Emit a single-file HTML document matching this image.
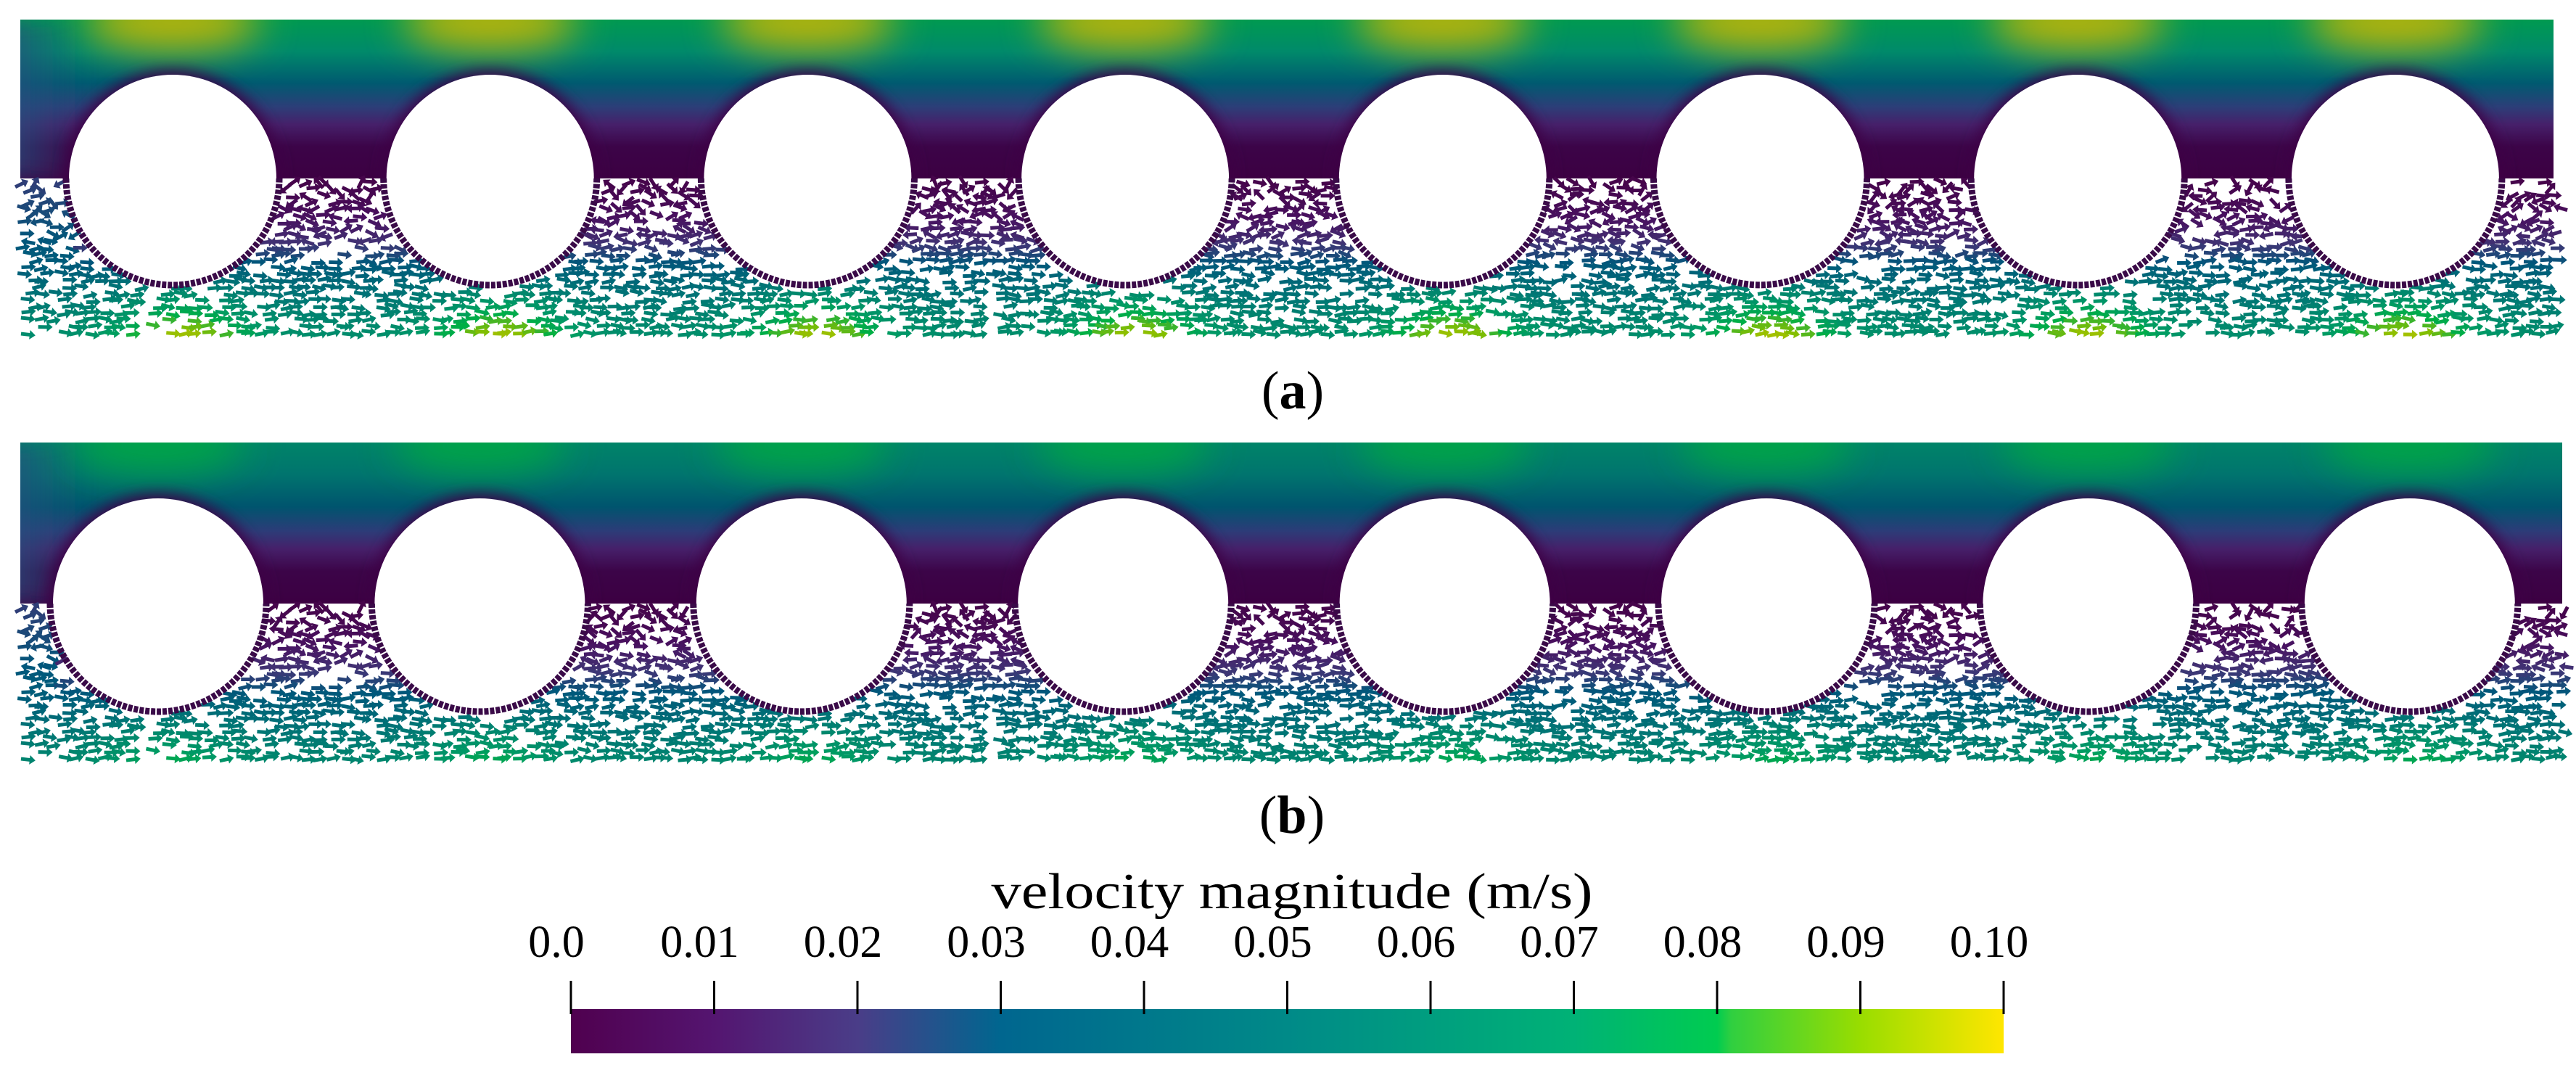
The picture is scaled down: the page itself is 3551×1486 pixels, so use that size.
<!DOCTYPE html>
<html><head><meta charset="utf-8"><style>
html,body{margin:0;padding:0;background:#fff;}
svg{display:block;}
text{font-family:"Liberation Serif",serif;fill:#000;}
</style></head><body>
<svg id="fig" width="3551" height="1486" viewBox="0 0 3551 1486" xmlns="http://www.w3.org/2000/svg">
<defs>
  <filter id="blur20" x="-50%" y="-50%" width="200%" height="200%"><feGaussianBlur stdDeviation="26"/></filter>
  <filter id="blur14" x="-50%" y="-50%" width="200%" height="200%"><feGaussianBlur stdDeviation="16"/></filter>
  <filter id="blur8" x="-50%" y="-50%" width="200%" height="200%"><feGaussianBlur stdDeviation="10"/></filter>
  <linearGradient id="fieldA" x1="0" y1="0" x2="0" y2="1">
    <stop offset="0" stop-color="#009a50"/><stop offset="0.2" stop-color="#008a6a"/>
    <stop offset="0.4" stop-color="#005a70"/><stop offset="0.55" stop-color="#2c3e78"/>
    <stop offset="0.66" stop-color="#46206a"/><stop offset="0.8" stop-color="#3c0448"/>
    <stop offset="1" stop-color="#3c0042"/>
  </linearGradient>
  <linearGradient id="fieldB" x1="0" y1="0" x2="0" y2="1">
    <stop offset="0" stop-color="#008468"/><stop offset="0.2" stop-color="#00746e"/>
    <stop offset="0.4" stop-color="#00546e"/><stop offset="0.55" stop-color="#2c3c78"/>
    <stop offset="0.66" stop-color="#46206a"/><stop offset="0.8" stop-color="#3c0448"/>
    <stop offset="1" stop-color="#3c0042"/>
  </linearGradient>
  <linearGradient id="leftEdge" x1="0" y1="0" x2="1" y2="0">
    <stop offset="0" stop-color="#24507e" stop-opacity="0.95"/><stop offset="1" stop-color="#24507e" stop-opacity="0"/>
  </linearGradient>
  <linearGradient id="cbar" x1="0" y1="0" x2="1" y2="0"></linearGradient>
  <clipPath id="clipA"><rect x="28" y="27" width="3492" height="219"/></clipPath>
  <clipPath id="clipB"><rect x="28" y="610" width="3504" height="222"/></clipPath>
</defs>
<g id="panelA"></g>
<g id="panelB"></g>
<text x="1782" y="563" font-size="74" text-anchor="middle">(<tspan font-weight="bold">a</tspan>)</text>
<text x="1781" y="1148" font-size="74" text-anchor="middle">(<tspan font-weight="bold">b</tspan>)</text>
<g id="colorbar">
  <text x="1781" y="1252" font-size="70" text-anchor="middle" textLength="829" lengthAdjust="spacingAndGlyphs">velocity magnitude (m/s)</text>
</g>
</svg>
<script>
// ---- data ----
const tickValues = [0, 0.01, 0.02, 0.03, 0.04, 0.05, 0.06, 0.07, 0.08, 0.09, 0.10];
const tickLabels = ["0.0","0.01","0.02","0.03","0.04","0.05","0.06","0.07","0.08","0.09","0.10"];
const stopValues = [0, 0.01, 0.02, 0.03, 0.05, 0.07, 0.08, 0.081, 0.09, 0.10];
const stopColors = ["#50004f","#541570","#4a3d88","#00668f","#008a88","#00b276","#00cc50","#30cf40","#99dd00","#ffe600"];
const rowMagA = [0.002,0.004,0.006,0.009,0.013,0.018,0.024,0.031,0.038,0.045,0.051,0.056,0.06,0.063];
const rowMagB = [0.002,0.004,0.006,0.009,0.013,0.018,0.023,0.029,0.035,0.041,0.047,0.052,0.056,0.059];
const hotAmpA = 0.034;
const hotAmpB = 0.02;
const circleCount = 8;

const NS = "http://www.w3.org/2000/svg";
const vmin = 0, vmax = 0.10;
const cbX0 = 787, cbX1 = 2762, cbY0 = 1391, cbY1 = 1452;
function xScale(v){ return cbX0 + (v - vmin) / (vmax - vmin) * (cbX1 - cbX0); }

function hex(c){ return [parseInt(c.substr(1,2),16),parseInt(c.substr(3,2),16),parseInt(c.substr(5,2),16)]; }
function colorAt(v, dark){
  v = Math.max(vmin, Math.min(vmax, v));
  let k = 0;
  while (k < stopValues.length - 2 && v > stopValues[k+1]) k++;
  const t = (v - stopValues[k]) / (stopValues[k+1] - stopValues[k]);
  const a = hex(stopColors[k]), b = hex(stopColors[k+1]);
  const f = dark || 1;
  return "rgb(" + a.map((q,i)=>Math.round((q + (b[i]-q)*t)*f)).join(",") + ")";
}
function mk(tag, attrs, parent){
  const e = document.createElementNS(NS, tag);
  for (const k in attrs) e.setAttribute(k, attrs[k]);
  parent.appendChild(e);
  return e;
}
// deterministic grid hash (layout texture only)
function hsh(i, j, s){
  let h = (i * 374761393 + j * 668265263 + s * 2246822519) >>> 0;
  h = ((h ^ (h >>> 13)) * 1274126177) >>> 0;
  return ((h ^ (h >>> 16)) >>> 0) / 4294967296;
}

// ---- colorbar ----
const grad = document.getElementById("cbar");
stopValues.forEach((v,i)=>{
  mk("stop", {offset: (v - vmin)/(vmax - vmin), "stop-color": stopColors[i]}, grad);
});
const cb = document.getElementById("colorbar");
const bar = mk("rect", {x: cbX0, y: cbY0, width: cbX1 - cbX0, height: cbY1 - cbY0, fill: "url(#cbar)"}, cb);


tickValues.forEach((v,i)=>{
  const x = xScale(v);
  const t = mk("line", {x1: x, x2: x, y1: 1352, y2: 1398, stroke: "#000", "stroke-width": 3}, cb);
  
  
  const l = mk("text", {x: x - 20, y: 1319, "font-size": 62, "text-anchor": "middle"}, cb);
  l.textContent = tickLabels[i];
  
  
});

// ---- panels ----
function buildPanel(id, P){
  const g = document.getElementById(id);
  const circles = [];
  for (let i = 0; i < circleCount; i++) circles.push(P.c0 + i * P.dc);
  const fg = mk("g", {"clip-path": "url(#" + P.clip + ")"}, g);
  
  
  mk("rect", {x: P.x0, y: P.top, width: P.x1 - P.x0, height: P.yc - P.top, fill: P.fill}, fg);
  mk("rect", {x: P.x0 - 40, y: P.top, width: 130, height: P.yc - P.top, fill: "url(#leftEdge)", filter: "url(#blur14)"}, fg);
  circles.forEach(cx=>{
    mk("ellipse", {cx: cx, cy: P.top + 4, rx: 120, ry: 38, fill: P.hot, "fill-opacity": 0.9, filter: "url(#blur20)"}, fg);
  });
  circles.forEach(cx=>{
    mk("circle", {cx: cx, cy: P.yc, r: P.r + 6, fill: "#3c0044", filter: "url(#blur8)"}, fg);
  });
  const ag = mk("g", {}, g);
  
  
  const rows = P.rowMag;
  function mag(x, y){
    const d = (y - P.yc) / (P.ybot - P.yc);
    const fi = Math.max(0, Math.min(rows.length - 1, d * (rows.length - 1)));
    const k = Math.min(rows.length - 2, Math.floor(fi));
    let m = rows[k] + (rows[k+1] - rows[k]) * (fi - k);
    circles.forEach(cx=>{
      const gx = Math.exp(-Math.pow((x - cx - 15) / 95, 2));
      m += P.hotAmp * gx * Math.max(0, (d - 0.5) / 0.5);
    });
    if (x < circles[0] - P.r + 10) m = Math.max(m, 0.022 + 0.02 * d);
    return m;
  }
  const L = 20;
  const shape = "M" + (-L/2) + ",-2.5 H" + (L/2-8) + " V-6.5 L" + (L/2) + ",0 L" + (L/2-8) + ",6.5 V2.5 H" + (-L/2) + " Z";
  let j = 0;
  for (let y0 = P.yc + 6; y0 <= P.ybot - 4; y0 += 9, j++){
    let i = 0;
    for (let x = P.x0 + 8 + (j % 2) * 8; x <= P.x1 + 6; x += 16, i++){
      if (hsh(i, j, 1) < 0.25) continue;
      const xx = x + (hsh(i, j, 2) - 0.5) * 12;
      const y = y0 + (hsh(i, j, 3) - 0.5) * 5;
      let inside = false;
      circles.forEach(cx=>{
        if (Math.hypot(xx - cx, y - P.yc) < P.r + 9) inside = true;
      });
      if (inside || y > P.ybot) continue;
      const d = (y - P.yc) / (P.ybot - P.yc);
      const swirl = Math.max(0, 1 - d * 1.7);
      let ang = swirl * 70 * (hsh(i, j, 4) * 2 - 1) + (1 - swirl) * 14 * (hsh(i, j, 5) * 2 - 1);
      if (swirl > 0.3 && hsh(i, j, 6) < 0.3) ang += 180;
      const a = mk("path", {d: shape, fill: colorAt(mag(xx, y), 0.86),
        transform: "translate(" + xx.toFixed(1) + "," + y.toFixed(1) + ") rotate(" + ang.toFixed(1) + ")"}, ag);
      
      
    }
  }
  circles.forEach(cx=>{
    const c = mk("circle", {cx: cx, cy: P.yc, r: P.r, fill: "#fff"}, g);
    
    
    const ring = mk("path", {d: "M" + (cx - P.r - 4) + "," + P.yc + " A" + (P.r + 4) + "," + (P.r + 4) + " 0 0 0 " + (cx + P.r + 4) + "," + P.yc,
      fill: "none", stroke: "#3a0a48", "stroke-width": 9, "stroke-dasharray": "6 2"}, g);
    
    
  });
}

buildPanel("panelA", {x0: 28, x1: 3520, top: 27, yc: 246, ybot: 468, c0: 238, dc: 437.7, r: 143,
  fill: "url(#fieldA)", hot: "#d0b800", clip: "clipA", rowMag: rowMagA, hotAmp: hotAmpA});
buildPanel("panelB", {x0: 28, x1: 3532, top: 610, yc: 832, ybot: 1055, c0: 218, dc: 443.4, r: 145,
  fill: "url(#fieldB)", hot: "#00a844", clip: "clipB", rowMag: rowMagB, hotAmp: hotAmpB});
</script>
</body></html>
